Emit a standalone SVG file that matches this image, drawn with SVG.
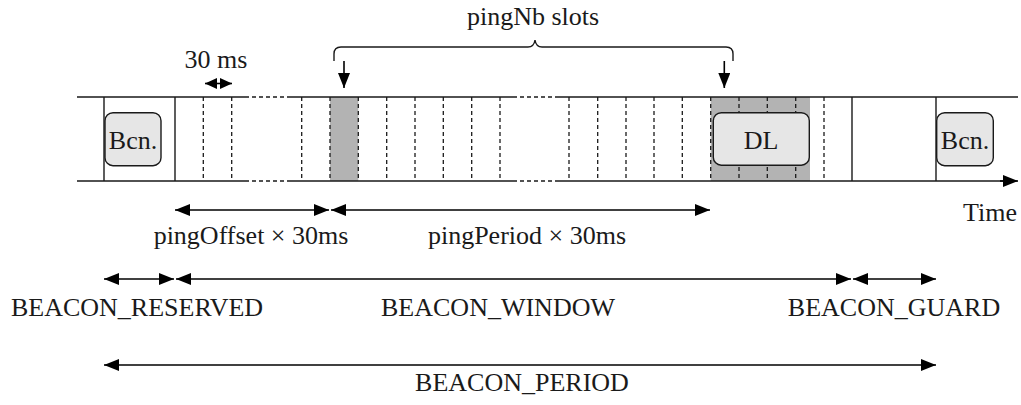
<svg xmlns="http://www.w3.org/2000/svg" width="1021" height="405" viewBox="0 0 1021 405">
<style>
text{font-family:"Liberation Serif","Times New Roman",serif;font-size:26px;fill:#1a1a1a}
.ln{stroke:#1a1a1a;stroke-width:1.4;fill:none}
.dash{stroke:#1a1a1a;stroke-width:1.3;stroke-dasharray:4,3;fill:none}
.arr{stroke:#000;stroke-width:1.6;fill:none;marker-end:url(#ah);marker-start:url(#ah)}
.one{stroke:#000;stroke-width:1.6;fill:none;marker-end:url(#ah)}
.sm{stroke:#000;stroke-width:1.6;fill:none;marker-end:url(#ahs);marker-start:url(#ahs)}
.box{fill:#e6e6e6;stroke:#1a1a1a;stroke-width:1.4}
.gray{fill:#b3b3b3}
</style>
<defs>
<marker id="ah" viewBox="0 0 15 12" refX="15" refY="6" markerWidth="15" markerHeight="12" markerUnits="userSpaceOnUse" orient="auto-start-reverse">
<path d="M0,0 L15,6 L0,12 z" fill="#000"/>
</marker>
<marker id="ahs" viewBox="0 0 12 11" refX="12" refY="5.5" markerWidth="12" markerHeight="11" markerUnits="userSpaceOnUse" orient="auto-start-reverse">
<path d="M0,0 L12,5.5 L0,11 z" fill="#000"/>
</marker>
</defs>
<rect width="1021" height="405" fill="#fff"/>
<g id="timeline">
<rect class="gray" x="330" y="97" width="28.3" height="84"/>
<rect class="gray" x="710.7" y="97" width="99.3" height="84"/>
<path class="ln" d="M77,97 H245 M287,97 H513 M555,97 H1018"/>
<path class="dash" d="M245,97 H287 M513,97 H555 M245,181 H287 M513,181 H555"/>
<path class="ln" d="M77,181 H245 M287,181 H513 M555,181 H1006"/>
<path class="one" d="M1000,181 H1018"/>
<path class="ln" d="M104,97 V181 M175,97 V181 M852,97 V181 M936,97 V181"/>
<path class="dash" d="M203.3,97 V181 M231.7,97 V181 M301.7,97 V181 M330,97 V181 M358.3,97 V181 M386.7,97 V181 M415,97 V181 M443.3,97 V181 M471.7,97 V181 M500,97 V181 M569,97 V181 M597.7,97 V181 M626,97 V181 M654,97 V181 M682.3,97 V181 M710.7,97 V181 M739,97 V181 M767.3,97 V181 M795.7,97 V181 M824,97 V181"/>
<text x="1017" y="221" text-anchor="end">Time</text>
</g>
<g id="bcn1">
<rect class="box" x="105" y="112.7" width="56" height="53" rx="8"/>
<text x="133" y="148.5" text-anchor="middle">Bcn.</text>
</g>
<g id="dl">
<rect class="box" x="713.3" y="112.7" width="96" height="52.5" rx="8"/>
<text x="761" y="148.5" text-anchor="middle">DL</text>
</g>
<g id="bcn2">
<rect class="box" x="936.7" y="112.7" width="56.6" height="53" rx="8"/>
<text x="965" y="148.5" text-anchor="middle">Bcn.</text>
</g>
<g id="pingnb">
<path class="ln" d="M334,61 V54 Q334,47 341,47 H528 Q534,47 535,40 Q536,47 542,47 H726 Q733,47 733,54 V61"/>
<text x="533" y="25" text-anchor="middle">pingNb slots</text>
</g>
<g id="connectors">
<path class="one" d="M344,61 V88"/>
<path class="one" d="M724.3,61 V88"/>
<path class="sm" d="M205,83.5 H232"/>
<path class="arr" d="M175,210 H329"/>
<path class="arr" d="M331,210 H710"/>
<path class="arr" d="M104,279 H174"/>
<path class="arr" d="M176,279 H851"/>
<path class="arr" d="M853,279 H936"/>
<path class="arr" d="M104,365 H936"/>
</g>
<g id="labels">
<text x="216" y="68" text-anchor="middle">30 ms</text>
<text x="251" y="244" text-anchor="middle">pingOffset × 30ms</text>
<text x="527" y="244" text-anchor="middle">pingPeriod × 30ms</text>
<text x="137" y="316" text-anchor="middle">BEACON_RESERVED</text>
<text x="498" y="316" text-anchor="middle">BEACON_WINDOW</text>
<text x="894" y="316" text-anchor="middle">BEACON_GUARD</text>
<text x="522" y="391" text-anchor="middle">BEACON_PERIOD</text>
</g>
</svg>
